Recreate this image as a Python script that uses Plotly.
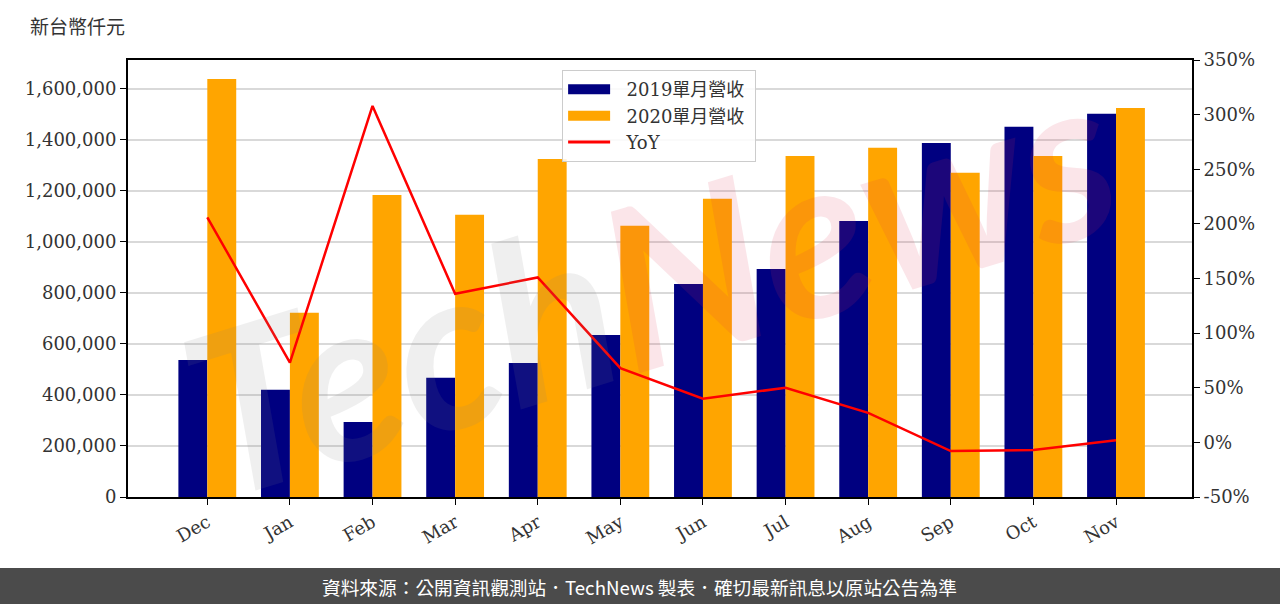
import plotly.graph_objects as go

months = ["Dec", "Jan", "Feb", "Mar", "Apr", "May", "Jun", "Jul", "Aug", "Sep", "Oct", "Nov"]
rev_2019 = [537000, 420000, 294000, 467000, 525000, 635000, 835000, 894000, 1082000, 1388000, 1451000, 1502000]
rev_2020 = [1639000, 722000, 1184000, 1106000, 1325000, 1063000, 1169000, 1337000, 1369000, 1271000, 1337000, 1525000]
yoy = [206, 73, 308, 136, 151, 68, 40, 50, 27, -8, -7, 2]

left_ticks = list(range(0, 1700000, 200000))
right_ticks = list(range(-50, 351, 50))

font = "DejaVu Serif, Noto Sans CJK TC"
navy, orange, red = "#000080", "#FFA500", "#FF0000"

fig = go.Figure()
fig.add_trace(go.Bar(x=months, y=rev_2019, name="2019單月營收", marker_color=navy,
                     marker_line_width=0, showlegend=False))
fig.add_trace(go.Bar(x=months, y=rev_2020, name="2020單月營收", marker_color=orange,
                     marker_line_width=0, showlegend=False))
fig.add_trace(go.Scatter(x=months, y=yoy, name="YoY", mode="lines",
                         line=dict(color=red, width=2.5), yaxis="y2", showlegend=False))

# legend entries (wide patches like the original)
for name, col, w in [("2019單月營收", navy, 15), ("2020單月營收", orange, 15), ("YoY", red, 3)]:
    fig.add_trace(go.Scatter(x=[None], y=[None], mode="lines", name="\u00a0\u00a0" + name + "\u00a0",
                             line=dict(color=col, width=w)))

fig.update_layout(
    width=1280, height=604,
    margin=dict(l=128, r=88, t=60, b=107),
    plot_bgcolor="white", paper_bgcolor="white",
    font=dict(family=font, size=18, color="#333"),
    barmode="group", bargap=0.3, bargroupgap=0,
    xaxis=dict(range=[-0.96, 11.92], tickangle=-30, showline=True, linecolor="black",
               linewidth=2, mirror=True, ticks="outside", ticklen=6, tickcolor="black",
               showgrid=False, tickfont=dict(size=18)),
    yaxis=dict(range=[0, 1713000], tickvals=left_ticks,
               ticktext=[f"{v:,}" for v in left_ticks], showline=True, linecolor="black",
               linewidth=2, ticks="outside", ticklen=6, tickcolor="black",
               showgrid=True, gridcolor="#d9d9d9", gridwidth=1.5, zeroline=False,
               tickfont=dict(size=18)),
    yaxis2=dict(range=[-50, 350], overlaying="y", side="right", tickvals=right_ticks,
                ticktext=[f"{v}%" for v in right_ticks], showline=True, linecolor="black",
                linewidth=2, ticks="outside", ticklen=6, tickcolor="black",
                showgrid=False, zeroline=False, tickfont=dict(size=18)),
    legend=dict(x=0.408, y=0.977, xanchor="left", yanchor="top", bgcolor="rgba(255,255,255,0.85)",
                bordercolor="#cccccc", borderwidth=1, font=dict(size=18), tracegroupgap=2,
                itemwidth=42),
)

# watermark
fig.add_annotation(text="<span style='color:#808080'>Tech</span><span style='color:#e03050'>News</span>",
                   xref="paper", yref="paper", x=0.49, y=0.5,
                   showarrow=False, textangle=-17, opacity=0.12,
                   font=dict(family="Lato", size=225, style="italic", weight="bold"))

# unit label
fig.add_annotation(text="新台幣仟元", xref="paper", yref="paper", x=-0.094, y=1.078,
                   xanchor="left", yanchor="middle", showarrow=False,
                   font=dict(family="Noto Sans CJK TC", size=19, color="#333"))

# footer bar
fig.add_shape(type="rect", xref="paper", yref="paper", x0=-0.2, x1=1.2,
              y0=-0.5, y1=-0.1625, fillcolor="#4b4b4b", line_width=0, layer="below")
fig.add_annotation(text="資料來源：公開資訊觀測站．TechNews 製表．確切最新訊息以原站公告為準",
                   xref="paper", yref="paper", x=0.481, y=-0.204, yanchor="middle",
                   showarrow=False, font=dict(family="Noto Sans CJK TC", size=18.7, color="white"))

fig.write_html("out.html", config={"displayModeBar": False},
               post_script="document.body.style.margin='0';")
